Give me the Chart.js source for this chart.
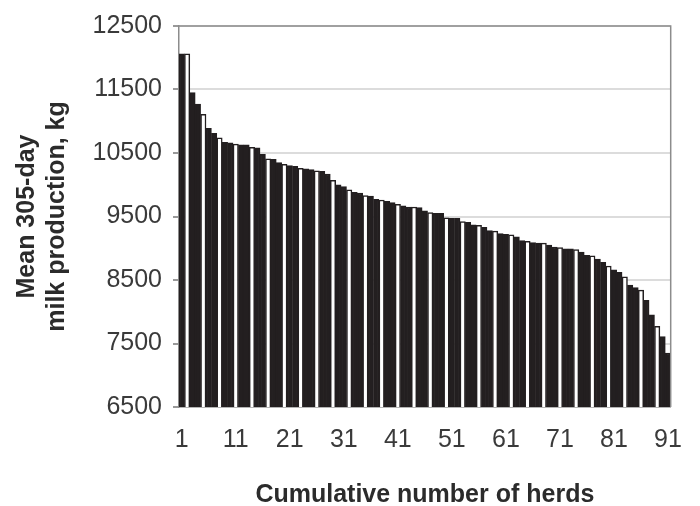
<!DOCTYPE html>
<html lang="en">
<head>
<meta charset="UTF-8">
<title>Mean 305-day milk production by herd</title>
<script src="https://cdn.jsdelivr.net/npm/chart.js"></script>
<style>
  body { margin: 0; background: #fff; }
</style>
</head>
<body>
<canvas id="grafico" width="700" height="506"></canvas>
<script>
  // herds ranked from highest to lowest production
  const herds = Array.from({ length: 91 }, (_, i) => i + 1);
  const xTickLabels = ['1', '11', '21', '31', '41', '51', '61', '71', '81', '91'];

  // mean 305-day milk production, kg
  const milkKg = [
    12060, 12060, 11450, 11270, 11110, 10890, 10810, 10740, 10670, 10660,
    10640, 10630, 10630, 10590, 10580, 10480, 10410, 10400, 10350, 10320,
    10300, 10290, 10260, 10250, 10240, 10220, 10210, 10170, 10070, 10000,
    9970, 9920, 9880, 9870, 9830, 9820, 9770, 9760, 9740, 9720,
    9690, 9670, 9650, 9650, 9640, 9590, 9560, 9550, 9550, 9480,
    9470, 9470, 9420, 9410, 9370, 9360, 9330, 9280, 9270, 9230,
    9220, 9210, 9180, 9120, 9110, 9090, 9080, 9080, 9050, 9020,
    9010, 8990, 8990, 8980, 8940, 8890, 8880, 8830, 8780, 8720,
    8660, 8620, 8550, 8420, 8380, 8340, 8180, 7950, 7770, 7610,
    7350
  ];

  const yMin = 6500;
  const yMax = 12500;
  const yStep = 1000;

  const barColor = '#231f20';
  const frameColor = '#8c8c8c';
  const fontFamily = 'Liberation Sans, Arial, sans-serif';

  // the figure's plot box: top and right edges
  const framePlugin = {
    id: 'frame',
    afterDatasetsDraw(chart) {
      const { ctx, chartArea: a } = chart;
      ctx.save();
      ctx.strokeStyle = frameColor;
      ctx.lineWidth = 1.5;
      ctx.beginPath();
      ctx.moveTo(a.left, a.top);
      ctx.lineTo(a.right, a.top);
      ctx.lineTo(a.right, a.bottom);
      ctx.stroke();
      ctx.restore();
    }
  };

  const ctx = document.getElementById('grafico').getContext('2d');
  new Chart(ctx, {
    type: 'bar',
    data: {
      labels: herds,
      datasets: [{
        data: milkKg,
        // every third bar shows up as an outlined bar in the original
        backgroundColor: herds.map((h, i) => (i % 3 === 1 ? '#ffffff' : barColor)),
        borderColor: barColor,
        borderWidth: 1.5,
        categoryPercentage: 1.0,
        barPercentage: 1.0
      }]
    },
    options: {
      responsive: false,
      animation: false,
      layout: { padding: { left: 0, top: 22.5, right: 18.5, bottom: 0 } },
      plugins: {
        legend: { display: false },
        tooltip: { enabled: false }
      },
      scales: {
        x: {
          afterFit(scale) { scale.height = 99; },
          grid: { display: false, drawTicks: false },
          border: { display: true, color: frameColor, width: 1.5 },
          ticks: {
            autoSkip: false,
            maxRotation: 0,
            padding: 18,
            color: '#3a3a3a',
            font: { family: fontFamily, size: 25 },
            callback(value, index) {
              const lab = String(herds[index]);
              return xTickLabels.includes(lab) ? lab : '';
            }
          },
          title: {
            display: true,
            text: 'Cumulative number of herds',
            color: '#2b2b2b',
            padding: { top: 0, bottom: 0 },
            font: { family: fontFamily, size: 25, weight: 'bold', lineHeight: 0.9 }
          }
        },
        y: {
          min: yMin,
          max: yMax,
          afterFit(scale) { scale.width = 179; },
          grid: { color: '#dcdcdc', lineWidth: 2, tickColor: '#999999', tickLength: 6 },
          border: { display: true, color: frameColor, width: 1.5 },
          ticks: {
            stepSize: yStep,
            padding: 11,
            color: '#3a3a3a',
            font: { family: fontFamily, size: 25 },
            callback: (v) => String(v)
          },
          title: {
            display: true,
            text: ['Mean 305-day', 'milk production, kg'],
            color: '#2b2b2b',
            padding: { top: 12, bottom: 0 },
            font: { family: fontFamily, size: 25, weight: 'bold', lineHeight: 1.2 }
          }
        }
      }
    },
    plugins: [framePlugin]
  });
</script>
</body>
</html>
